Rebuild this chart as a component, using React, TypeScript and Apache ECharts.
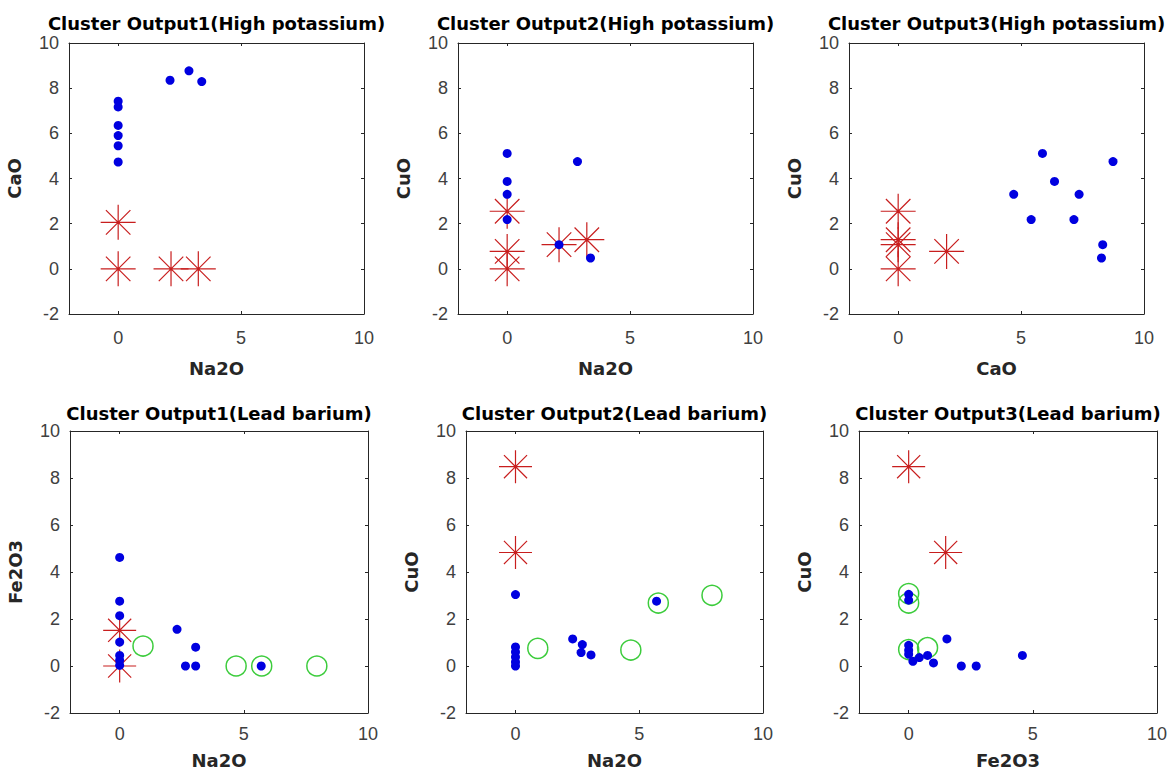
import React, { useEffect, useRef } from "react";
import * as echarts from "echarts";

// ---------- data ----------
const titles = [
  "Cluster Output1(High potassium)",
  "Cluster Output2(High potassium)",
  "Cluster Output3(High potassium)",
  "Cluster Output1(Lead barium)",
  "Cluster Output2(Lead barium)",
  "Cluster Output3(Lead barium)",
];
const xNames = ["Na2O", "Na2O", "CaO", "Na2O", "Na2O", "Fe2O3"];
const yNames = ["CaO", "CuO", "CuO", "Fe2O3", "CuO", "CuO"];
const xTicks = [0, 5, 10];
const axisMin = -2;
const axisMax = 10;
const yInterval = 2;

// High potassium
const hp1Cluster = [[0, 7.42], [0, 7.17], [0, 6.35], [0, 5.9], [0, 5.45], [0, 4.73], [2.11, 8.35], [2.88, 8.77], [3.4, 8.29]];
const hp1Centers = [[0, 2.06], [0, 0], [2.15, 0], [3.26, 0]];
const hp2Cluster = [[0, 5.11], [0, 3.87], [0, 3.3], [0, 2.18], [2.86, 4.75], [2.11, 1.07], [3.39, 0.48]];
const hp2Centers = [[0, 2.55], [0, 0.77], [0, 0], [2.11, 1.07], [3.24, 1.29]];
const hp3Cluster = [[5.87, 5.11], [8.74, 4.75], [6.36, 3.87], [4.7, 3.3], [7.36, 3.3], [5.41, 2.18], [7.15, 2.18], [8.32, 1.07], [8.27, 0.48]];
const hp3Centers = [[0, 2.55], [0, 1.29], [0, 1.07], [0, 0], [1.97, 0.77]];

// Lead barium
const lb1Cluster = [[0, 4.62], [0, 2.76], [0, 2.14], [0, 1.02], [0, 0.45], [0, 0.24], [0, 0.03], [2.31, 1.56], [3.06, 0.8], [2.65, 0], [3.06, 0], [5.7, 0]];
const lb1Centers = [[0, 1.52], [0, 0]];
const lb1Outliers = [[0.94, 0.85], [4.69, 0], [5.72, 0], [7.94, 0]];
const lb2Cluster = [[0, 3.04], [0, 0.81], [0, 0.6], [0, 0.38], [0, 0.17], [0, 0], [2.31, 1.15], [2.7, 0.91], [2.65, 0.57], [3.05, 0.47], [5.7, 2.76]];
const lb2Centers = [[0, 8.48], [0, 4.83]];
const lb2Outliers = [[0.9, 0.75], [4.66, 0.68], [5.77, 2.68], [7.94, 3.01]];
const lb3Cluster = [[0, 3.05], [0, 2.8], [0, 0.88], [0, 0.67], [0, 0.5], [0.17, 0.2], [0.43, 0.36], [0.76, 0.45], [1.0, 0.13], [1.54, 1.15], [2.12, 0], [2.72, 0], [4.58, 0.45]];
const lb3Centers = [[0, 8.48], [1.49, 4.83]];
const lb3Outliers = [[0, 3.08], [0, 2.68], [0, 0.7], [0.76, 0.78]];

const clusters = [hp1Cluster, hp2Cluster, hp3Cluster, lb1Cluster, lb2Cluster, lb3Cluster];
const centers = [hp1Centers, hp2Centers, hp3Centers, lb1Centers, lb2Centers, lb3Centers];
const outliers = [null, null, null, lb1Outliers, lb2Outliers, lb3Outliers];

// ---------- layout ----------
const grids = [
  { left: 69, top: 43, width: 295, height: 271 },
  { left: 458, top: 43, width: 295, height: 271 },
  { left: 849, top: 43, width: 295, height: 271 },
  { left: 70, top: 431, width: 298, height: 282 },
  { left: 466, top: 431, width: 297, height: 282 },
  { left: 859, top: 431, width: 298, height: 282 },
];
const titleTops = [14, 14, 14, 404, 404, 404];
const xLabelMargin = [15, 15, 15, 12, 12, 12];
const xNameGap = [45, 45, 45, 38, 38, 38];

const AXIS_COLOR = "#262626";
const LABEL_COLOR = "#404040";
const STAR = "path://M0,50L100,50M50,0L50,100M15,15L85,85M85,15L15,85";

export default function App() {
  const ref = useRef<HTMLDivElement>(null);

  useEffect(() => {
    const chart = echarts.init(ref.current!, null, { renderer: "svg" });

    const xAxis: any[] = [];
    const yAxis: any[] = [];
    const series: any[] = [];
    const graphic: any[] = [];

    grids.forEach((g, i) => {
      const lineStyle = { color: AXIS_COLOR, width: 1 };
      xAxis.push({
        type: "value",
        gridIndex: i,
        min: axisMin,
        max: axisMax,
        position: "bottom",
        splitLine: { show: false },
        axisLine: { show: true, onZero: false, lineStyle },
        axisTick: { show: true, inside: true, length: 3, customValues: xTicks, lineStyle },
        axisLabel: {
          customValues: xTicks,
          margin: xLabelMargin[i],
          fontSize: 18,
          fontFamily: "Liberation Sans",
          color: LABEL_COLOR,
        },
        name: xNames[i],
        nameLocation: "middle",
        nameGap: xNameGap[i],
        nameTextStyle: { fontSize: 18, fontWeight: "bold", fontFamily: "DejaVu Sans", color: AXIS_COLOR },
      });
      xAxis.push({
        type: "value",
        gridIndex: i,
        min: axisMin,
        max: axisMax,
        position: "top",
        splitLine: { show: false },
        axisLine: { show: true, onZero: false, lineStyle },
        axisTick: { show: true, inside: true, length: 3, customValues: xTicks, lineStyle },
        axisLabel: { show: false },
      });
      yAxis.push({
        type: "value",
        gridIndex: i,
        min: axisMin,
        max: axisMax,
        interval: yInterval,
        position: "left",
        splitLine: { show: false },
        axisLine: { show: true, onZero: false, lineStyle },
        axisTick: { show: true, inside: true, length: 3, lineStyle },
        axisLabel: { margin: 10, fontSize: 18, fontFamily: "Liberation Sans", color: LABEL_COLOR },
        name: yNames[i],
        nameLocation: "middle",
        nameGap: 46,
        nameTextStyle: { fontSize: 18, fontWeight: "bold", fontFamily: "DejaVu Sans", color: AXIS_COLOR },
      });
      yAxis.push({
        type: "value",
        gridIndex: i,
        min: axisMin,
        max: axisMax,
        interval: yInterval,
        position: "right",
        splitLine: { show: false },
        axisLine: { show: true, onZero: false, lineStyle },
        axisTick: { show: true, inside: true, length: 3, lineStyle },
        axisLabel: { show: false },
      });

      const starSize = i < 3 ? 35 : 33;
      series.push({
        type: "scatter",
        xAxisIndex: 2 * i,
        yAxisIndex: 2 * i,
        data: centers[i],
        symbol: STAR,
        symbolSize: starSize,
        itemStyle: { color: "transparent", borderColor: "#c81e1e", borderWidth: 1.2, opacity: 1 },
        z: 2,
      });
      const out = outliers[i];
      if (out) {
        series.push({
          type: "scatter",
          xAxisIndex: 2 * i,
          yAxisIndex: 2 * i,
          data: out,
          symbol: "circle",
          symbolSize: 20,
          itemStyle: { color: "transparent", borderColor: "#3ccc3c", borderWidth: 1.5, opacity: 1 },
          z: 2,
        });
      }
      series.push({
        type: "scatter",
        xAxisIndex: 2 * i,
        yAxisIndex: 2 * i,
        data: clusters[i],
        symbol: "circle",
        symbolSize: 9,
        itemStyle: { color: "#0000e0", opacity: 1 },
        z: 3,
      });

      graphic.push({
        type: "text",
        x: g.left + g.width / 2,
        y: titleTops[i],
        style: {
          text: titles[i],
          fill: "#000",
          fontSize: 18,
          fontWeight: "bold",
          fontFamily: "DejaVu Sans",
          align: "center",
          verticalAlign: "top",
        },
      });
    });

    chart.setOption({
      animation: false,
      backgroundColor: "#fff",
      grid: grids.map((g) => ({ ...g, containLabel: false })),
      xAxis,
      yAxis,
      series,
      graphic,
    });

    return () => chart.dispose();
  }, []);

  return (
    <div
      ref={ref}
      style={{ position: "fixed", left: 0, top: 0, width: 1170, height: 771, background: "#fff" }}
    />
  );
}
